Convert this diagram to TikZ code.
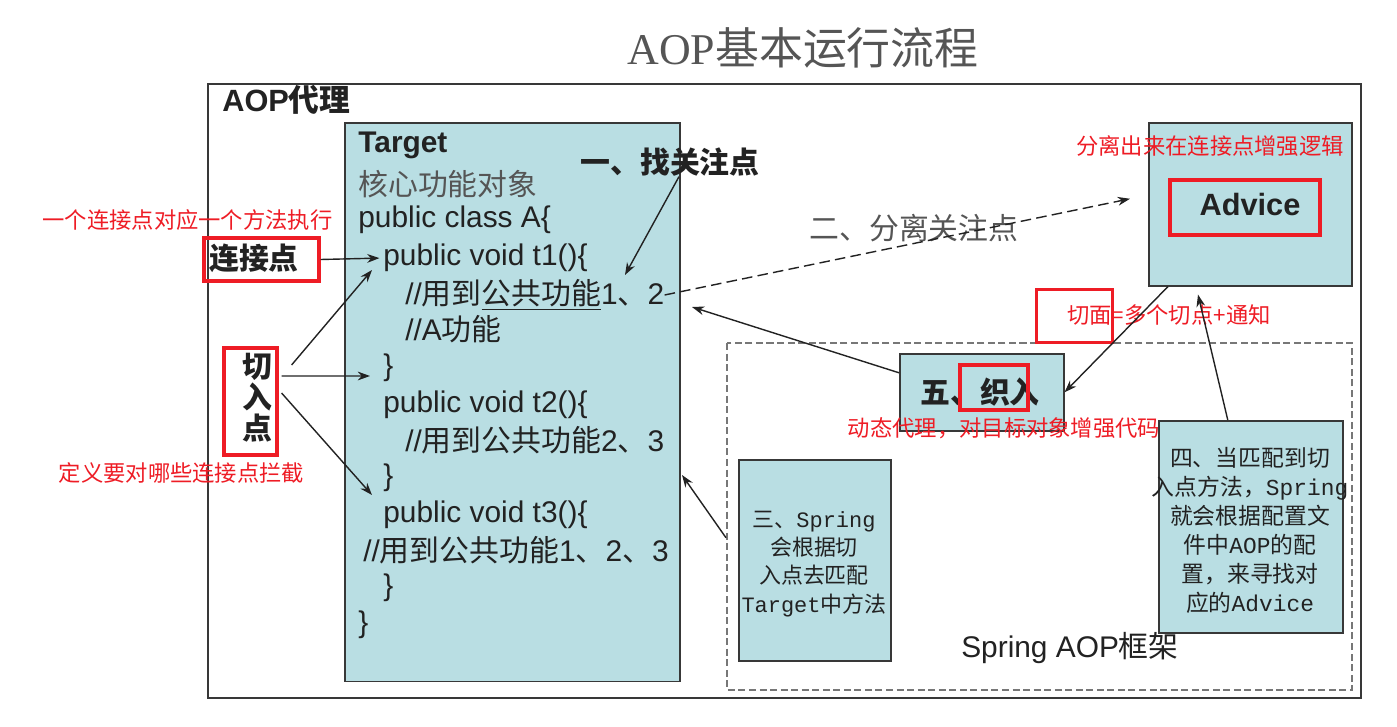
\documentclass[tikz,border=0pt]{standalone}
\usepackage{fontspec}
\setmainfont{Liberation Sans}
\newfontfamily\cjk{Noto Sans CJK SC}
\newfontfamily\mono{Liberation Mono}
\newfontfamily\serifa{Liberation Serif}
\newcommand{\zh}[1]{{\cjk #1}}
\usepackage{tikz}
\usetikzlibrary{arrows.meta,positioning,calc}
\definecolor{celeste}{HTML}{B9DEE3}
\definecolor{rojo}{HTML}{EE1C25}
\definecolor{tinta}{HTML}{222222}
\definecolor{tinta2}{HTML}{555555}

\begin{document}
\begin{tikzpicture}[x=0.02cm,y=-0.02cm,
  caja/.style={draw=tinta!90,fill=celeste,line width=0.9pt,inner sep=0pt},
  marcorojo/.style={draw=rojo,line width=1.8pt,inner sep=0pt},
  linea/.style={anchor=west,inner sep=0pt,text=tinta,font=\fontsize{17}{20}\selectfont},
  nota/.style={text=rojo,inner sep=0pt,font=\cjk\fontsize{12.7}{15}\selectfont},
  flecha/.style={draw=tinta,line width=0.8pt,-{Stealth[length=7pt,width=5pt]}}]
\useasboundingbox (0,0) rectangle (1397,727);
% titulo y marcos
\node[inner sep=0pt,text=tinta2,font=\fontsize{25}{30}\selectfont] (titulo) at (803,48) {{\serifa AOP}\zh{基本运行流程}};
\draw[tinta!90,line width=0.9pt] (208,84) rectangle (1361,698);
\node[anchor=west,inner sep=0pt,text=tinta,font=\bfseries\fontsize{17.5}{20}\selectfont] (proxy) at (222,100) {AOP\zh{代理}};
\draw[tinta2!80,line width=1pt,dash pattern=on 4pt off 2pt] (727,343) rectangle (1352,690);
\node[inner sep=0pt,text=tinta,font=\fontsize{17}{20}\selectfont] (framework) at (1070,648) {Spring AOP\zh{框架}};

% Target
\node[caja,anchor=north west,minimum width=6.70cm,minimum height=11.18cm] (target) at (344,122) {};
\node[linea,font=\bfseries\fontsize{17}{20}\selectfont] (tgt) at (358,145) {Target};
\node[linea,text=tinta2] (nucleo) at (358,184) {\zh{核心功能对象}};
\node[linea] (clase) at (358,220) {public class A\{};
\node[linea] (t1) at (383,258) {public void t1()\{};
\node[linea] (c1) at (405,295) {//\zh{用到\underline{公共功能}}1\zh{、}2};
\node[linea] (c1b) at (405,329) {//A\zh{功能}};
\node[linea] (f1) at (383,368) {\}};
\node[linea] (t2) at (383,405) {public void t2()\{};
\node[linea] (c2) at (405,440) {//\zh{用到公共功能}2\zh{、}3};
\node[linea] (f2) at (383,478) {\}};
\node[linea] (t3) at (383,515) {public void t3()\{};
\node[linea] (c3) at (363,550) {//\zh{用到公共功能}1\zh{、}2\zh{、}3};
\node[linea] (f3) at (383,588) {\}};
\node[linea] (fin) at (358,625) {\}};

% etiquetas de la izquierda
\node[inner sep=0pt,text=tinta,font=\cjk\bfseries\fontsize{17}{20}\selectfont] (ljd) at (254,258) {连接点};
\node[marcorojo,minimum width=2.3cm,minimum height=0.86cm] (ljdmarco) at (261.5,259.5) {};
\node[inner sep=0pt,text=tinta,align=center,font=\cjk\bfseries\fontsize{17}{17.6}\selectfont] (qrd) at (257,398) {切\\入\\点};
\node[marcorojo,minimum width=1.06cm,minimum height=2.14cm] (qrdmarco) at (250.5,401.5) {};
\node[nota] (notaljd) at (187.5,220) {一个连接点对应一个方法执行};
\node[nota] (notaqrd) at (181.5,473) {定义要对哪些连接点拦截};

% pasos
\node[inner sep=0pt,text=tinta,font=\cjk\bfseries\fontsize{17}{20}\selectfont] (zhao) at (670,162) {一、找关注点};
\node[inner sep=0pt,text=tinta2,font=\cjk\fontsize{17}{20}\selectfont] (fenli) at (914,228) {二、分离关注点};
\node[caja,anchor=north west,minimum width=4.06cm,minimum height=3.26cm] (adv) at (1148,122) {};
\node[marcorojo,minimum width=3.0cm,minimum height=1.1cm] (advmarco) at (1245,207.5) {};
\node[inner sep=0pt,text=tinta,font=\bfseries\fontsize{17.5}{20}\selectfont] (advtxt) at (1250,205) {Advice};
\node[nota] (notaadv) at (1210,146) {分离出来在连接点增强逻辑};
\node[marcorojo,anchor=north west,minimum width=1.52cm,minimum height=1.06cm] (qmmarco) at (1035,288) {};
\node[nota,anchor=west] (notaqm) at (1067,315) {切面=多个切点+通知};
\node[caja,anchor=north west,minimum width=3.28cm,minimum height=1.54cm] (wu) at (899,353) {};
\node[inner sep=0pt,text=tinta,font=\cjk\bfseries\fontsize{17}{20}\selectfont] (wutxt) at (980,392) {五、织入};
\node[marcorojo,minimum width=1.36cm,minimum height=0.9cm] (wumarco) at (994,387.5) {};
\node[nota] (notawu) at (1004,428) {动态代理，对目标对象增强代码};
\node[caja,anchor=north west,minimum width=3.04cm,minimum height=4.02cm] (san) at (738,459) {};
\node[inner sep=0pt,text=tinta,align=center,font=\cjk\fontsize{12.5}{16}\selectfont] (santxt) at (814,564) {三、{\mono Spring}\\会根据切\\入点去匹配\\{\mono Target}中方法};
\node[caja,anchor=north west,minimum width=3.68cm,minimum height=4.24cm] (si) at (1158,420) {};
\node[inner sep=0pt,text=tinta,align=center,font=\cjk\fontsize{13}{16.5}\selectfont] (sitxt) at (1250,530) {四、当匹配到切\\入点方法，{\mono Spring}\\就会根据配置文\\件中{\mono AOP}的配\\置，来寻找对\\应的{\mono Advice}};

% conectores
\coordinate (p1) at (625,275);
\coordinate (p5) at (692,307);
\coordinate (p3) at (682,475);
\draw[flecha,shorten >=2pt] (ljdmarco.east) -- (t1.west);
\draw[flecha] ([xshift=0.26cm,yshift=0.73cm]qrdmarco.east) -- ([xshift=-0.22cm,yshift=-0.24cm]t1.west);
\draw[flecha] ([xshift=0.06cm,yshift=0.51cm]qrdmarco.east) -- ([xshift=-0.26cm,yshift=-0.16cm]f1.west);
\draw[flecha] ([xshift=0.06cm,yshift=0.17cm]qrdmarco.east) -- ([xshift=-0.22cm,yshift=0.4cm]t3.west);
\draw[flecha] ([xshift=0.18cm]zhao.south) -- (p1);
\draw[flecha,dash pattern=on 6pt off 3pt] (c1.east) -- ([xshift=-0.36cm,yshift=0.11cm]adv.west);
\draw[flecha] ([yshift=0.39cm]wu.west) -- (p5);
\draw[flecha] ([xshift=-0.24cm,yshift=0.45cm]san.west) -- (p3);
\draw[flecha] ([xshift=0.4cm]adv.south west) -- (wu.east);
\draw[flecha] ([xshift=-0.46cm]si.north) -- ([xshift=1cm,yshift=-0.16cm]adv.south west);
\end{tikzpicture}
\end{document}
